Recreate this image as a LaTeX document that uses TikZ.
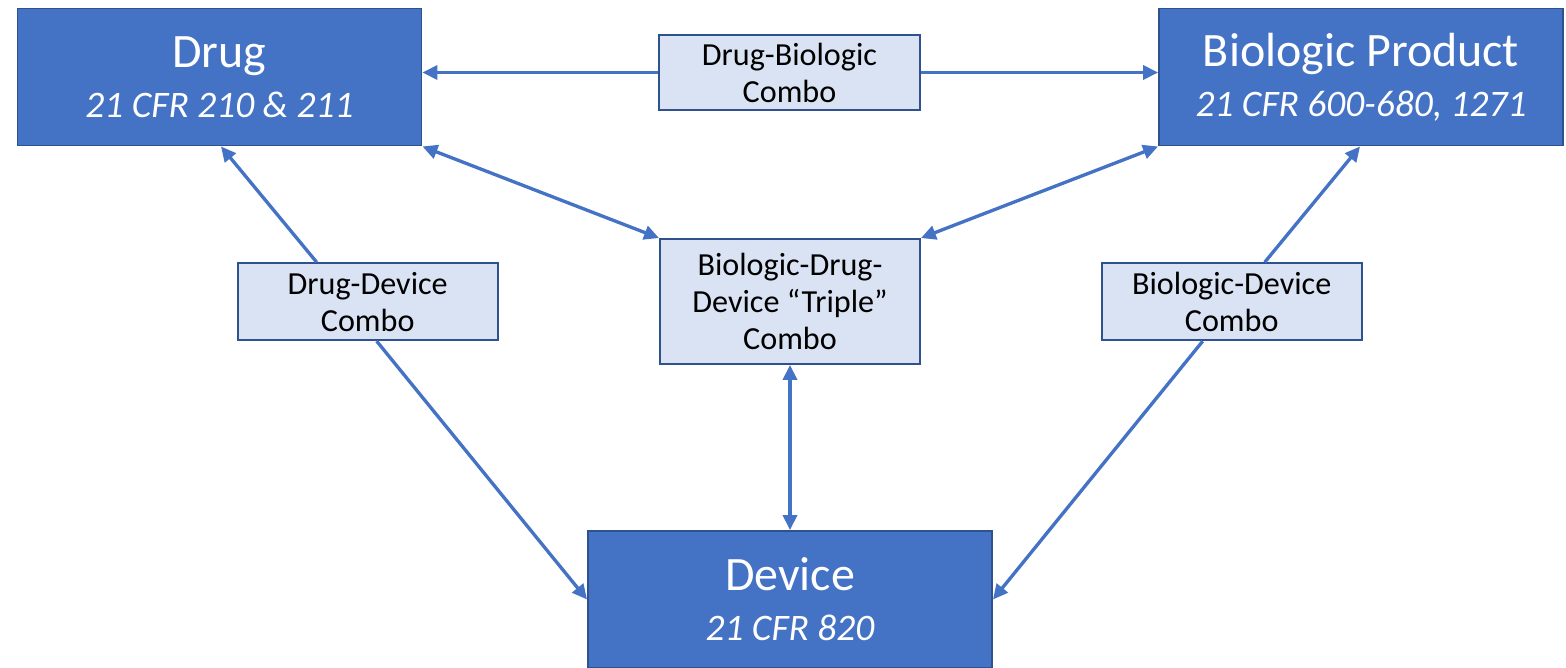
\documentclass[tikz,border=0pt]{standalone}
\usepackage{fontspec}
\setmainfont{Carlito}
\usetikzlibrary{arrows.meta,calc}
\definecolor{mainblue}{HTML}{4472C4}
\definecolor{edgeblue}{HTML}{2F528F}
\definecolor{paleblue}{HTML}{DAE3F3}
\tikzset{
  regbox/.style={draw=edgeblue, line width=1.1pt, fill=mainblue, text=white,
    minimum width=404*0.02cm, minimum height=137*0.02cm, inner sep=0pt,
    align=center, font=\fontsize{27.3}{28.4}\selectfont},
  combobox/.style={draw=edgeblue, line width=1.1pt, fill=paleblue, text=black,
    minimum width=260*0.02cm, inner sep=0pt, align=center,
    font=\fontsize{18.3}{21}\selectfont},
  link/.style={draw=mainblue, line width=1.9pt,
    -{Triangle[length=8.5pt,width=8pt]}},
  twoway/.style={draw=mainblue, line width=1.9pt,
    {Triangle[length=8.5pt,width=8pt]}-{Triangle[length=8.5pt,width=8pt]}}
}
\newcommand{\cfrline}[1]{\fontsize{21.3}{28.4}\selectfont\itshape #1}
\begin{document}
\begin{tikzpicture}[x=0.02cm, y=-0.02cm]
  \useasboundingbox (0,0) rectangle (1566,667);

  % regulated product categories
  \node[regbox] (drug) at (219.5,77) {Drug\\\cfrline{21 CFR 210 \& 211}};
  \node[regbox] (bio) at (1361,77) {Biologic Product\\\cfrline{21 CFR 600-680, 1271}};
  \node[regbox] (dev) at (790,599.5) {Device\\\cfrline{21 CFR 820}};

  % combination products
  \node[combobox, minimum width=261*0.02cm, minimum height=75*0.02cm] (db) at (789.5,72.5) {Drug-Biologic\\Combo};
  \node[combobox, minimum height=125*0.02cm] (tri) at (790,301.5) {Biologic-Drug-\\Device \textquotedblleft Triple\textquotedblright\\Combo};
  \node[combobox, minimum height=77*0.02cm] (dd) at (367.7,301.7) {Drug-Device\\Combo};
  \node[combobox, minimum height=77*0.02cm] (bd) at (1231.7,301.7) {Biologic-Device\\Combo};

  % connectors
  \draw[link] (db.west) -- (drug.east |- db.west);
  \draw[link] (db.east) -- (bio.west |- db.east);
  \draw[twoway] (drug.south east) -- (tri.north west);
  \draw[twoway] (bio.south west) -- (tri.north east);
  \draw[twoway] (tri.south) -- (dev.north);
  \draw[link] ([shift={(-51,0)}]dd.north) -- ([shift={(1.5,0)}]drug.south);
  \draw[link] ([shift={(9,0)}]dd.south) -- (dev.west);
  \draw[link] ([shift={(33,0)}]bd.north) -- ([shift={(-1,0)}]bio.south);
  \draw[link] ([shift={(-29,0)}]bd.south) -- (dev.east);
\end{tikzpicture}
\end{document}
